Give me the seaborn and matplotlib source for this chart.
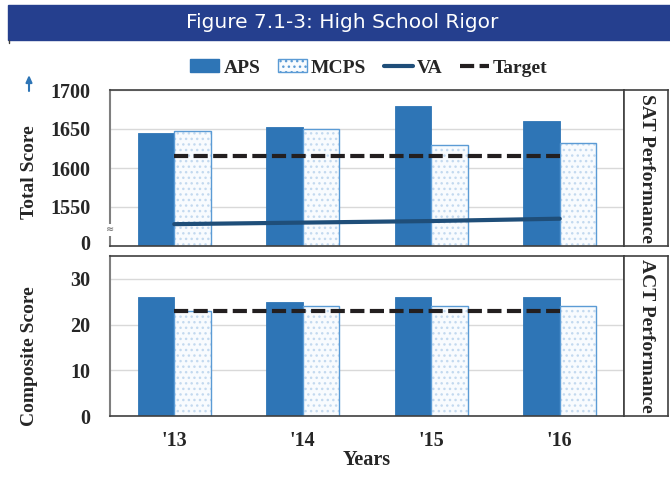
import numpy as np
import pandas as pd
import matplotlib
matplotlib.use("Agg")
import matplotlib.pyplot as plt
from matplotlib.patches import Rectangle, Patch, FancyArrowPatch
from matplotlib.lines import Line2D
import seaborn as sns

# ---- data ----
years = ["'13", "'14", "'15", "'16"]
districts = ["APS", "MCPS"]
sat_aps = [1645, 1652, 1680, 1660]
sat_mcps = [1648, 1650, 1629, 1632]
sat_va = [1528, 1530, 1532, 1535]
sat_target = [1615, 1615, 1615, 1615]
act_aps = [26, 25, 26, 26]
act_mcps = [23, 24, 24, 24]
act_target = [23, 23, 23, 23]
sat_ticks = [1550, 1600, 1650, 1700]
act_ticks = [0, 10, 20, 30]

sns.set_theme(style="white")
plt.rcParams["font.family"] = ["Liberation Serif", "DejaVu Serif"]
plt.rcParams["font.weight"] = "bold"

W, H = 670, 480
fig = plt.figure(figsize=(W / 100, H / 100), dpi=100)
fig.patch.set_facecolor("white")


def px_axes(l, t, r, b):
    return fig.add_axes([l / W, 1 - b / H, (r - l) / W, (b - t) / H])


APS_C = "#2E75B6"
MCPS_FACE = "#F8FBFE"
MCPS_EDGE = "#5B9BD5"
HATCH_C = "#C3D9EF"
VA_C = "#1F4E79"
TGT_C = "#231F20"
GRID_C = "#D9D9D9"
SPINE_C = "#404040"


def long_frame(aps, mcps):
    return pd.DataFrame({
        "year": years * 2,
        "district": ["APS"] * 4 + ["MCPS"] * 4,
        "score": list(aps) + list(mcps),
    })


def draw_panel(ax, aps, mcps, target, va=None):
    df = long_frame(aps, mcps)
    sns.barplot(data=df, x="year", y="score", hue="district",
                hue_order=districts, order=years,
                palette={"APS": APS_C, "MCPS": MCPS_FACE},
                width=0.565, gap=0, saturation=1, legend=False, ax=ax,
                errorbar=None)
    for bar in ax.containers[0]:
        bar.set_edgecolor(APS_C)
        bar.set_linewidth(0.6)
    for bar in ax.containers[1]:
        bar.set_facecolor(MCPS_FACE)
        bar.set_edgecolor(HATCH_C)
        bar.set_hatch("...")
        bar.set_linewidth(0)
        outline = Rectangle((bar.get_x(), bar.get_y()), bar.get_width(),
                            bar.get_height(), fill=False,
                            edgecolor=MCPS_EDGE, linewidth=1.0,
                            zorder=bar.get_zorder() + 0.1)
        ax.add_patch(outline)
    xs = np.arange(len(years))
    if va is not None:
        sns.lineplot(x=xs, y=va, ax=ax, color=VA_C, linewidth=3.0, zorder=5)
    sns.lineplot(x=xs, y=target, ax=ax, color=TGT_C, linewidth=3.0, zorder=6)
    ax.lines[-1].set_dashes((3.4, 1.3))
    ax.lines[-1].set_dash_capstyle("butt")
    ax.set_xlim(-0.5, len(years) - 0.5)
    ax.set_xlabel("")
    ax.set_ylabel("")
    ax.yaxis.grid(True, color=GRID_C, linewidth=1.0)
    ax.set_axisbelow(True)
    for s in ["top", "bottom", "right"]:
        ax.spines[s].set_color(SPINE_C)
        ax.spines[s].set_linewidth(1.2)
    ax.spines["left"].set_color("#7F7F7F")
    ax.spines["left"].set_linewidth(1.5)
    ax.tick_params(axis="both", length=0, labelsize=14.5, pad=14)


def side_box(t, b, label):
    bx = px_axes(624, t, 668, b)
    bx.set_xticks([])
    bx.set_yticks([])
    for s in bx.spines.values():
        s.set_color(SPINE_C)
        s.set_linewidth(1.2)
    bx.text(0.5, 0.5, label, rotation=-90, ha="center", va="center",
            fontsize=14, fontweight="bold", transform=bx.transAxes)


# ---- SAT panel ----
ax1 = px_axes(110, 90, 624, 246)
draw_panel(ax1, sat_aps, sat_mcps, sat_target, va=sat_va)
ax1.set_ylim(1500, 1700)
ax1.set_yticks(sat_ticks)
ax1.set_yticklabels([str(v) for v in sat_ticks])
ax1.set_yticks([1505], minor=True)
ax1.set_yticklabels(["0"], minor=True)
ax1.tick_params(axis="y", which="minor", length=0, labelsize=14.5, pad=14)
ax1.set_xticklabels([])
ax1.text(0, 1521, "\u2248", transform=ax1.get_yaxis_transform(), ha="center",
         va="center", fontsize=7, color="#808080", family="DejaVu Sans",
         bbox=dict(boxstyle="square,pad=0.1", fc="white", ec="none"), zorder=10,
         clip_on=False)
side_box(90, 246, "SAT Performance")

# ---- ACT panel ----
ax2 = px_axes(110, 256, 624, 416)
draw_panel(ax2, act_aps, act_mcps, act_target)
ax2.set_ylim(0, 35)
ax2.set_yticks(act_ticks)
ax2.set_yticklabels([str(v) for v in act_ticks])
ax2.tick_params(axis="x", labelsize=14.5, pad=11)
ax2.set_xlabel("Years", fontsize=14.5, fontweight="bold", labelpad=-1)
side_box(256, 416, "ACT Performance")

# y-axis titles
fig.text(29 / W, 1 - 172 / H, "Total Score", rotation=90, ha="center",
         va="center", fontsize=14, fontweight="bold")
fig.text(29 / W, 1 - 356 / H, "Composite Score", rotation=90, ha="center",
         va="center", fontsize=14, fontweight="bold")

# title banner
fig.patches.append(Rectangle((8 / W, 1 - 40 / H), (W - 8) / W, 35 / H,
                             transform=fig.transFigure, color="#253F8E", zorder=0))
fig.add_artist(Line2D([8.5 / W, 8.5 / W], [1 - 40 / H, 1 - 43 / H],
                      color="#404040", linewidth=1.0))
fig.text(342 / W, 1 - 23 / H, "Figure 7.1-3: High School Rigor", color="white",
         ha="center", va="center", fontsize=14.5, family="DejaVu Sans",
         fontweight="normal")

# small arrow beside the score axis
fig.add_artist(FancyArrowPatch(
    (29 / W, 1 - 91 / H), (29 / W, 1 - 75 / H), transform=fig.transFigure,
    arrowstyle="-|>,head_length=4,head_width=1.8", color=APS_C,
    linewidth=1.5, shrinkA=0, shrinkB=0))

# legend
handles = [
    Patch(facecolor=APS_C, edgecolor=APS_C),
    Patch(facecolor=MCPS_FACE, edgecolor=MCPS_EDGE, hatch="..."),
    Line2D([], [], color=VA_C, linewidth=3.0),
    Line2D([], [], color=TGT_C, linewidth=3.0, dashes=(3.4, 1.3), dash_capstyle="butt"),
]
fig.legend(handles, ["APS", "MCPS", "VA", "Target"], ncol=4, frameon=False,
           loc="center", bbox_to_anchor=(369 / W, 1 - 68 / H),
           prop=dict(size=14, weight="bold"), handlelength=1.5,
           handleheight=0.6, handletextpad=0.2, columnspacing=0.9)

fig.savefig("out.png", dpi=100)
